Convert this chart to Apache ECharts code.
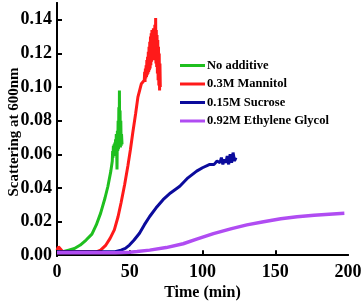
<!DOCTYPE html>
<html><head><meta charset="utf-8">
<script src="https://cdn.jsdelivr.net/npm/echarts@6/dist/echarts.min.js"></script>
<style>html,body{margin:0;padding:0;background:#fff}#c{width:364px;height:305px}</style>
</head><body><div id="c"></div>
<script>
var seriesNames = ['No additive', '0.3M Mannitol', '0.15M Sucrose', '0.92M Ethylene Glycol'];
var seriesColors = ['#1fbf1f', '#ff1a1a', '#0b0b9c', '#b04cf2'];
var xAxisTitle = 'Time (min)';
var yAxisTitle = 'Scattering at 600nm';

var tNoAdd = [0, 4, 8, 12, 16, 20, 24, 27, 30, 33, 35, 37, 38, 38.25, 38.5, 38.75, 39, 39.25, 39.5, 39.75, 40, 40.25, 40.5, 40.75, 41, 41.25, 41.5, 41.75, 42, 42.25, 42.5, 42.75, 42.9, 43.1, 43.35, 43.6, 43.85, 44.1, 44.35, 44.7];
var vNoAdd = [0.002, 0.002, 0.003, 0.004, 0.006, 0.009, 0.0125, 0.018, 0.025, 0.034, 0.041, 0.050, 0.056, 0.062, 0.058, 0.065, 0.059, 0.066, 0.060, 0.067, 0.061, 0.069, 0.062, 0.072, 0.063, 0.051, 0.074, 0.062, 0.080, 0.063, 0.088, 0.064, 0.098, 0.065, 0.086, 0.064, 0.080, 0.065, 0.072, 0.066];

var tMan = [0, 1, 2, 4, 10, 20, 27, 30, 33.6, 36.5, 39.4, 42, 44, 46.5, 48.7, 50.5, 52.1, 54, 55.6, 58, 60, 60.25, 60.5, 60.75, 61, 61.25, 61.5, 61.75, 62, 62.25, 62.5, 62.75, 63, 63.25, 63.5, 63.75, 64, 64.25, 64.5, 64.75, 65, 65.25, 65.5, 65.75, 66, 66.25, 66.5, 66.75, 67, 67.25, 67.5, 67.8, 68, 68.25, 68.5, 68.75, 69, 69.25, 69.5, 69.75, 70, 70.25, 70.5, 70.75, 71];
var vMan = [0.003, 0.005, 0.004, 0.002, 0.002, 0.002, 0.002, 0.003, 0.006, 0.010, 0.015, 0.023, 0.031, 0.042, 0.053, 0.063, 0.073, 0.084, 0.094, 0.102, 0.104, 0.109, 0.103, 0.111, 0.105, 0.113, 0.106, 0.116, 0.107, 0.118, 0.108, 0.121, 0.109, 0.124, 0.110, 0.127, 0.111, 0.130, 0.113, 0.132, 0.115, 0.134, 0.116, 0.133, 0.118, 0.135, 0.117, 0.134, 0.119, 0.137, 0.116, 0.141, 0.114, 0.134, 0.112, 0.131, 0.108, 0.128, 0.104, 0.124, 0.101, 0.120, 0.098, 0.114, 0.100];

var tSuc = [0, 10, 20, 30, 40, 44, 47, 49.8, 53, 56.7, 60, 63.7, 68, 72.9, 78, 84.4, 90, 96, 100, 105, 108, 110, 112, 113, 114, 115, 116, 117, 118, 119, 120, 121, 122, 123];
var vSuc = [0.002, 0.002, 0.002, 0.002, 0.002, 0.003, 0.004, 0.006, 0.009, 0.013, 0.018, 0.023, 0.028, 0.033, 0.037, 0.041, 0.046, 0.050, 0.052, 0.054, 0.054, 0.056, 0.055, 0.058, 0.054, 0.057, 0.055, 0.059, 0.054, 0.060, 0.055, 0.061, 0.056, 0.058];

var tEg = [0, 20, 40, 50, 55, 63.7, 75, 86.7, 96, 107.5, 120, 130.5, 142, 153.8, 165, 176.7, 187, 197.5];
var vEg = [0.0015, 0.0015, 0.0015, 0.0018, 0.0022, 0.003, 0.0045, 0.0068, 0.0095, 0.0128, 0.0158, 0.018, 0.0199, 0.0216, 0.0228, 0.0238, 0.0244, 0.0249];

var xTicks = [0, 50, 100, 150, 200];
var yTicks = [0, 0.02, 0.04, 0.06, 0.08, 0.10, 0.12, 0.14];

function pairs(t, v) { return t.map(function (x, i) { return [x, v[i]]; }); }
var allT = [tNoAdd, tMan, tSuc, tEg];
var allV = [vNoAdd, vMan, vSuc, vEg];

var font = '"Liberation Serif", "Times New Roman", serif';
var frameLine = {show: true, lineStyle: {color: '#000', width: 2}};
var chart = echarts.init(document.getElementById('c'), null, {renderer: 'canvas'});
chart.setOption({
  animation: false,
  backgroundColor: '#fff',
  grid: {left: 57, right: 16, top: 3, bottom: 49, containLabel: false, outerBoundsMode: 'none', show: false},
  xAxis: [{
    type: 'value', min: 0, max: 200, position: 'bottom',
    axisLine: frameLine,
    axisTick: {show: true, inside: true, length: 5, lineStyle: {color: '#000', width: 2}, customValues: [50, 100, 150]},
    axisLabel: {color: '#000', fontFamily: font, fontWeight: 'bold', fontSize: 18, margin: 7, customValues: xTicks},
    splitLine: {show: false},
    name: xAxisTitle, nameLocation: 'middle', nameGap: 29, nameMoveOverlap: false,
    nameTextStyle: {color: '#000', fontFamily: font, fontWeight: 'bold', fontSize: 16}
  }, {
    type: 'value', min: 0, max: 200, position: 'top',
    axisLine: frameLine, axisTick: {show: false}, axisLabel: {show: false}, splitLine: {show: false}
  }],
  yAxis: [{
    type: 'value', min: -0.0005, max: 0.15, position: 'left',
    axisLine: frameLine,
    axisTick: {show: true, inside: true, length: 5, lineStyle: {color: '#000', width: 2}, customValues: yTicks},
    axisLabel: {color: '#000', fontFamily: font, fontWeight: 'bold', fontSize: 18, margin: 5, customValues: yTicks,
      formatter: function (v) { return v.toFixed(2); }},
    splitLine: {show: false}
  }, {
    type: 'value', min: -0.0005, max: 0.15, position: 'right',
    axisLine: frameLine, axisTick: {show: false}, axisLabel: {show: false}, splitLine: {show: false}
  }],
  graphic: [{
    type: 'text', x: 14, y: 132, rotation: Math.PI / 2,
    style: {text: yAxisTitle, fill: '#000', font: 'bold 15px ' + font, textAlign: 'center', textVerticalAlign: 'middle'}
  }],
  legend: {
    orient: 'vertical', left: 175, top: 54, itemGap: 5.5, padding: 5,
    itemWidth: 25, itemHeight: 3, icon: 'rect',
    textStyle: {color: '#000', fontFamily: font, fontWeight: 'bold', fontSize: 12.5, padding: [0, 0, 0, -3]},
    data: seriesNames
  },
  series: seriesNames.map(function (n, i) {
    return {
      name: n, type: 'line', showSymbol: false, symbol: 'none',
      xAxisIndex: 0, yAxisIndex: 0,
      data: pairs(allT[i], allV[i]),
      lineStyle: {color: seriesColors[i], width: i === 3 ? 3.5 : 3},
      itemStyle: {color: seriesColors[i]}
    };
  })
});
</script></body></html>
